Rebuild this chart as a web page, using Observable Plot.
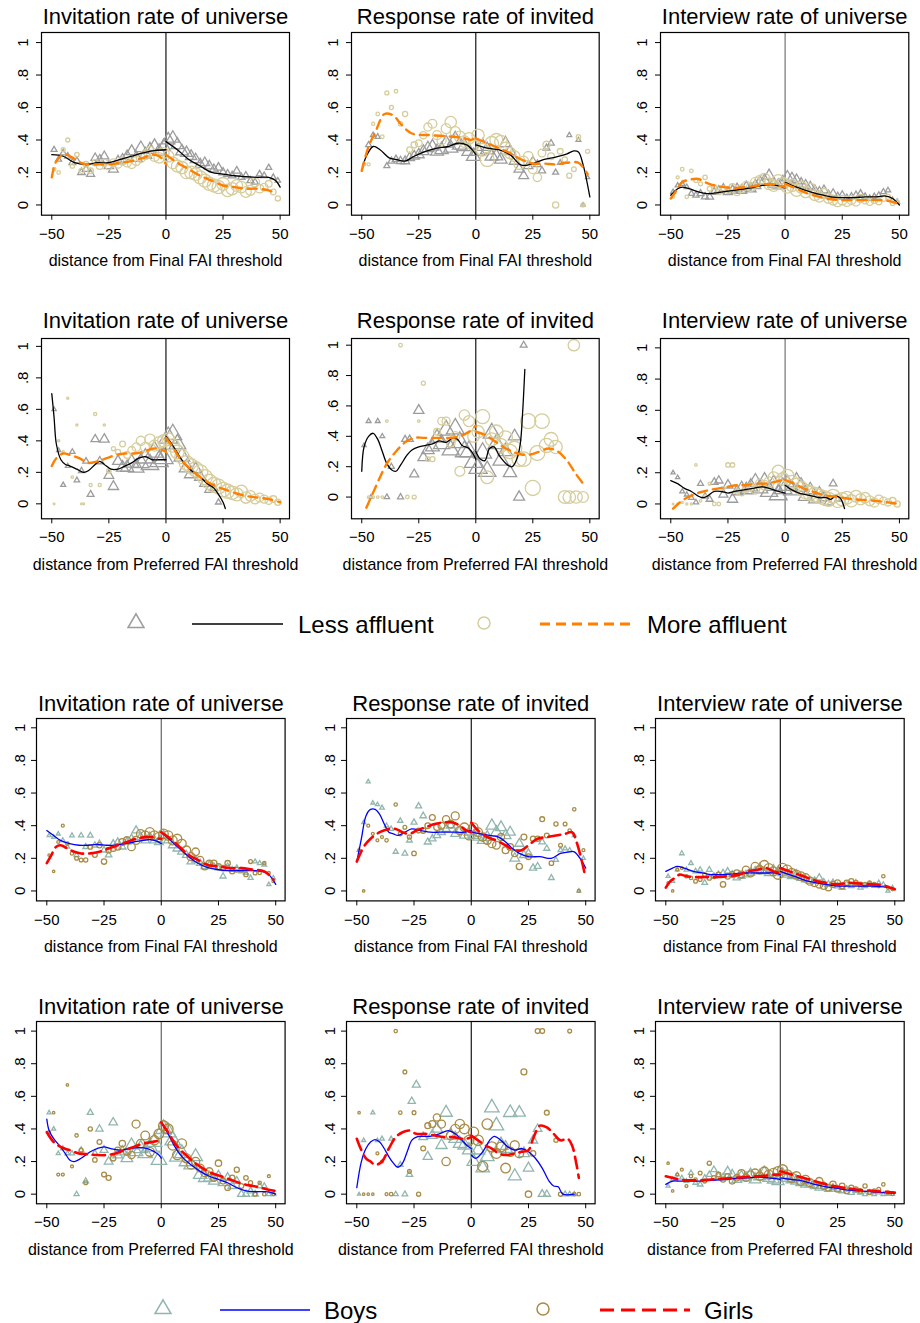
<!DOCTYPE html>
<html><head><meta charset="utf-8">
<script src="https://cdn.jsdelivr.net/npm/d3@7"></script>
<script src="https://cdn.jsdelivr.net/npm/@observablehq/plot@0.6"></script>
<style>
body{margin:0;background:#fff;}
#root{position:relative;width:920px;height:1323px;overflow:hidden;background:#fff;}
</style></head><body><div id="root"></div><script>
const FONT = '"Liberation Sans", Arial, Helvetica, sans-serif';
const xTicks = [-50,-25,0,25,50];
const yTickValues = [0,0.2,0.4,0.6,0.8,1];
const yTickLabels = ["0",".2",".4",".6",".8","1"];
const titles = ["Invitation rate of universe","Response rate of invited","Interview rate of universe"];
const xLabels = ["distance from Final FAI threshold","distance from Preferred FAI threshold"];
const legend1 = ["Less affluent","More affluent"];
const legend2 = ["Boys","Girls"];

// ---------- Panel 1: Invitation, Final, affluence ----------
const p1Tri = [[-49,.34,6],[-47,.28,6],[-45,.32,7],[-43,.30,7],[-41,.26,8],[-39,.27,9],[-37,.20,10],[-35,.22,10],[-33,.19,11],[-31,.29,12],[-29,.28,13],[-27,.30,14],[-25,.24,15],[-23,.22,16],[-21,.27,17],[-19,.28,18],[-17,.30,20],[-15,.33,22],[-13,.29,24],[-11,.35,26],[-9,.31,27],[-7,.34,28],[-5,.36,30],[-3,.33,30],[-1,.36,30],[1,.40,30],[3,.41,30],[5,.37,28],[7,.33,26],[9,.32,24],[11,.30,22],[13,.28,20],[15,.25,18],[17,.26,17],[19,.24,16],[21,.22,14],[23,.23,13],[25,.20,12],[27,.19,11],[29,.18,10],[31,.21,10],[33,.17,9],[35,.18,9],[37,.15,8],[39,.14,8],[41,.19,7],[43,.18,7],[45,.23,6],[47,.17,6],[49,.15,5]];
const p1Circ = [[-49,.22,4],[-47,.20,4],[-45,.34,5],[-43,.40,5],[-41,.24,6],[-39,.31,6],[-37,.21,8],[-35,.25,10],[-33,.21,10],[-31,.26,12],[-29,.24,14],[-27,.26,14],[-25,.24,16],[-23,.26,18],[-21,.25,18],[-19,.27,20],[-17,.26,22],[-15,.25,22],[-13,.27,24],[-11,.29,26],[-9,.31,28],[-7,.33,30],[-5,.30,32],[-3,.29,34],[-1,.32,36],[1,.30,40],[3,.26,42],[5,.24,44],[7,.23,46],[9,.20,48],[11,.20,50],[13,.19,50],[15,.17,52],[17,.15,52],[19,.13,54],[21,.12,54],[23,.11,52],[25,.13,50],[27,.09,48],[29,.10,46],[31,.12,42],[33,.11,40],[35,.08,36],[37,.09,30],[39,.14,26],[41,.10,22],[43,.11,18],[45,.13,14],[47,.08,10],[49,.04,8]];
const p1LineA = [[-50,.31],[-45,.30],[-40,.26],[-35,.25],[-30,.26],[-25,.26],[-20,.28],[-15,.30],[-10,.32],[-5,.335],[0,.34],[0,null],[0,.39],[5,.34],[10,.28],[15,.24],[20,.20],[25,.19],[30,.18],[35,.175],[40,.17],[45,.17],[48,.15],[50,.11]];
const p1LineB = [[-50,.17],[-48,.27],[-45,.31],[-42,.30],[-38,.265],[-35,.25],[-30,.25],[-25,.25],[-20,.26],[-15,.27],[-10,.29],[-6,.31],[-3,.30],[0,.25],[0,null],[0,.31],[5,.26],[10,.22],[15,.18],[20,.15],[25,.12],[30,.11],[35,.10],[40,.10],[45,.09],[48,.07]];

// ---------- Panel 2: Response, Final, affluence ----------
const p2Tri = [[-47,.37,6],[-45,.43,5],[-43,.42,5],[-39,.24,6],[-37,.27,8],[-35,.28,10],[-33,.27,12],[-31,.27,14],[-29,.29,16],[-27,.30,18],[-25,.31,20],[-23,.33,22],[-21,.35,24],[-19,.36,26],[-17,.33,28],[-15,.34,30],[-13,.38,32],[-11,.35,34],[-9,.40,38],[-7,.37,36],[-5,.36,34],[-3,.33,34],[-1,.30,34],[1,.33,34],[3,.36,32],[5,.34,30],[7,.30,30],[9,.30,28],[11,.28,26],[13,.38,24],[15,.33,22],[17,.27,20],[19,.22,18],[21,.18,16],[23,.24,14],[25,.27,12],[27,.25,10],[29,.21,9],[31,.35,8],[33,.38,7],[35,.20,6],[37,.26,5],[41,.43,4],[45,.40,4],[47,.00,3],[49,.17,3]];
const p2Circ = [[-49,.25,3],[-47,.25,3],[-45,.50,3],[-43,.56,4],[-41,.42,4],[-39,.69,5],[-37,.60,5],[-35,.70,4],[-33,.50,6],[-31,.56,8],[-29,.34,10],[-27,.37,12],[-25,.38,14],[-23,.43,16],[-21,.48,20],[-19,.50,24],[-17,.43,24],[-15,.40,26],[-13,.47,30],[-11,.51,40],[-9,.45,34],[-7,.42,38],[-5,.39,40],[-3,.41,42],[-1,.37,44],[1,.43,46],[3,.34,50],[5,.28,60],[7,.38,56],[9,.40,52],[11,.39,48],[13,.35,44],[15,.32,40],[17,.30,36],[19,.25,32],[21,.27,30],[23,.30,28],[25,.22,24],[27,.17,22],[29,.32,18],[31,.37,16],[33,.30,14],[35,.00,12],[37,.33,10],[39,.28,9],[41,.18,8],[43,.22,7],[45,.42,6],[47,.00,5],[49,.33,5]];
const p2LineA = [[-50,.21],[-48,.30],[-45,.36],[-42,.34],[-38,.29],[-35,.28],[-31,.27],[-27,.30],[-22,.33],[-17,.35],[-12,.36],[-8,.38],[-4,.37],[-1,.33],[0,.31],[0,null],[0,.37],[5,.35],[10,.34],[15,.31],[20,.245],[25,.255],[30,.28],[35,.295],[40,.315],[43,.333],[45,.326],[47,.25],[50,.05]];
const p2LineB = [[-50,.21],[-47,.36],[-44,.45],[-40,.56],[-36,.55],[-33,.50],[-28,.44],[-20,.43],[-10,.42],[-5,.41],[-2,.40],[0,.42],[0,null],[0,.41],[5,.38],[10,.35],[15,.32],[20,.28],[25,.255],[30,.255],[35,.25],[40,.26],[45,.26],[49,.19]];

// ---------- Panel 3: Interview, Final, affluence ----------
const p3Tri = [[-49,.08,4],[-47,.12,4],[-45,.13,5],[-43,.11,5],[-41,.07,6],[-39,.06,7],[-37,.07,8],[-35,.05,9],[-33,.05,10],[-31,.08,11],[-29,.09,12],[-27,.10,13],[-25,.08,14],[-23,.09,15],[-21,.10,16],[-19,.09,17],[-17,.11,18],[-15,.10,19],[-13,.12,20],[-11,.14,21],[-9,.15,22],[-7,.18,22],[-5,.13,23],[-3,.12,23],[-1,.14,24],[1,.17,24],[3,.16,23],[5,.15,22],[7,.13,20],[9,.12,18],[11,.11,17],[13,.09,16],[15,.08,15],[17,.09,14],[19,.06,13],[21,.07,12],[23,.05,11],[25,.06,10],[27,.04,10],[29,.05,9],[31,.06,9],[33,.07,8],[35,.05,8],[37,.04,7],[39,.05,7],[41,.06,6],[43,.08,6],[45,.09,5],[47,.03,5],[49,.02,4]];
const p3Circ = [[-49,.05,3],[-47,.17,3],[-45,.22,4],[-43,.05,4],[-41,.21,4],[-39,.15,5],[-37,.13,5],[-35,.17,6],[-33,.10,7],[-31,.11,8],[-29,.08,9],[-27,.10,10],[-25,.09,12],[-23,.11,14],[-21,.08,16],[-19,.10,18],[-17,.12,20],[-15,.11,24],[-13,.14,28],[-11,.15,34],[-9,.16,38],[-7,.13,40],[-5,.12,42],[-3,.15,44],[-1,.13,46],[1,.11,46],[3,.12,44],[5,.09,44],[7,.11,42],[9,.08,40],[11,.10,38],[13,.06,36],[15,.05,34],[17,.07,32],[19,.04,30],[21,.03,30],[23,.02,30],[25,.03,28],[27,.02,26],[29,.03,24],[31,.02,22],[33,.04,20],[35,.03,18],[37,.02,16],[39,.03,14],[41,.02,12],[43,.04,10],[45,.05,8],[47,.01,6],[49,.02,5]];
const p3LineA = [[-50,.06],[-47,.10],[-45,.11],[-42,.10],[-38,.08],[-34,.07],[-30,.075],[-25,.085],[-20,.095],[-15,.105],[-10,.12],[-7,.125],[-4,.12],[0,.105],[0,null],[0,.14],[5,.11],[10,.085],[15,.065],[20,.05],[25,.045],[30,.045],[35,.05],[40,.05],[44,.055],[47,.04],[50,.0]];
const p3LineB = [[-50,.04],[-48,.08],[-45,.14],[-42,.155],[-38,.16],[-35,.14],[-31,.12],[-27,.11],[-22,.105],[-17,.11],[-12,.12],[-7,.13],[-3,.12],[0,.11],[0,null],[0,.13],[5,.10],[10,.07],[15,.05],[20,.035],[25,.03],[30,.03],[35,.03],[40,.03],[45,.025],[49,.01]];

// ---------- Panel 4: Invitation, Preferred, affluence ----------
const p4Tri = [[-49,.60,3],[-47,.34,3],[-45,.12,4],[-43,.24,4],[-41,.33,5],[-39,.15,5],[-37,.21,6],[-35,.27,7],[-33,.06,8],[-31,.41,12],[-29,.27,12],[-27,.41,16],[-25,.18,16],[-23,.11,18],[-21,.27,20],[-19,.23,26],[-17,.23,30],[-15,.26,36],[-13,.23,40],[-11,.26,44],[-9,.29,48],[-7,.25,52],[-5,.33,56],[-3,.27,58],[-1,.29,60],[1,.42,58],[3,.44,54],[5,.38,48],[7,.30,42],[9,.23,36],[11,.19,30],[13,.22,26],[15,.17,22],[17,.13,18],[19,.09,14],[21,.10,10],[23,.01,6]];
const p4Circ = [[-49,.00,1],[-47,.40,1.5],[-45,.33,1.5],[-43,.67,1.5],[-41,.17,2],[-39,.50,1.5],[-37,.00,1],[-36,.00,1],[-33,.12,3],[-31,.57,3],[-29,.12,3],[-27,.50,1.5],[-25,.21,6],[-23,.35,5],[-21,.33,8],[-19,.38,10],[-17,.31,14],[-15,.34,18],[-13,.36,22],[-11,.40,26],[-9,.36,30],[-7,.41,34],[-5,.37,38],[-3,.39,42],[-1,.40,46],[1,.41,50],[3,.37,54],[5,.33,58],[7,.30,62],[9,.26,64],[11,.24,66],[13,.22,68],[15,.20,70],[17,.17,70],[19,.14,70],[21,.12,68],[23,.11,66],[25,.09,64],[27,.08,60],[29,.07,56],[31,.06,52],[33,.08,46],[35,.04,40],[37,.05,34],[39,.03,28],[41,.04,24],[43,.03,20],[45,.02,16],[47,.03,14],[49,.01,12]];
const p4LineA = [[-50,.70],[-49,.55],[-48,.38],[-46,.28],[-44,.25],[-42,.24],[-39,.22],[-36,.20],[-34,.21],[-31,.25],[-29,.27],[-27,.25],[-24,.22],[-21,.22],[-18,.24],[-15,.26],[-12,.29],[-9,.30],[-6,.28],[-3,.28],[0,.28],[0,null],[0,.43],[3,.37],[6,.30],[9,.24],[12,.20],[15,.17],[18,.13],[21,.10],[23,.06],[25,.01],[26,-.03]];
const p4LineB = [[-50,.24],[-48,.29],[-45,.32],[-42,.31],[-38,.29],[-34,.26],[-30,.27],[-26,.29],[-22,.31],[-18,.32],[-14,.32],[-10,.33],[-6,.35],[-3,.35],[0,.33],[0,null],[0,.42],[3,.36],[6,.29],[10,.23],[14,.18],[18,.14],[22,.11],[26,.09],[30,.07],[35,.05],[40,.04],[45,.03],[50,.01]];

// ---------- Panel 5: Response, Preferred, affluence ----------
const p5Tri = [[-49,.34,3],[-47,.50,4],[-46,.00,3],[-43,.50,4],[-41,.40,4],[-39,.00,5],[-37,.20,6],[-33,.00,6],[-31,.38,8],[-29,.38,9],[-27,.15,14],[-25,.57,18],[-23,.26,20],[-21,.31,26],[-19,.33,32],[-17,.39,38],[-15,.35,44],[-13,.44,50],[-11,.31,50],[-9,.45,54],[-7,.36,56],[-5,.30,56],[-3,.30,56],[-1,.23,56],[1,.19,56],[3,.29,54],[5,.17,52],[7,.42,50],[9,.35,46],[11,.24,42],[13,.30,36],[15,.16,30],[17,.40,26],[19,.00,20],[21,1.00,8]];
const p5Circ = [[-47,.00,2],[-45,.00,2],[-43,.00,2],[-41,.00,2],[-39,.50,2],[-33,1.00,4],[-30,.00,4],[-27,.00,5],[-25,.50,2],[-23,.75,5],[-21,.25,6],[-19,.25,8],[-17,.43,14],[-15,.50,18],[-13,.50,20],[-11,.36,24],[-9,.40,26],[-7,.17,30],[-5,.54,34],[-3,.50,38],[-1,.40,42],[1,.43,46],[3,.53,60],[5,.13,50],[7,.38,52],[9,.43,56],[11,.34,58],[13,.39,60],[15,.30,62],[17,.32,64],[19,.25,64],[21,.25,66],[23,.50,70],[25,.06,70],[27,.29,68],[29,.50,66],[31,.34,62],[33,.38,58],[35,.33,54],[39,.00,50],[41,.00,48],[43,1.00,40],[44,.00,46],[47,.00,36]];
const p5LineA = [[-50,.17],[-49,.33],[-47,.40],[-45,.42],[-43,.38],[-41,.30],[-39,.22],[-37,.18],[-35,.17],[-33,.21],[-30,.28],[-28,.31],[-25,.33],[-22,.34],[-19,.35],[-16,.37],[-13,.36],[-10,.39],[-8,.38],[-6,.34],[-3,.32],[-1,.28],[0,.25],[0,null],[0,.30],[2,.25],[4,.24],[6,.32],[8,.33],[10,.28],[12,.24],[14,.21],[16,.20],[18,.25],[19.5,.35],[20.5,.55],[21.5,.84]];
const p5LineB = [[-48,-.07],[-45,.03],[-42,.13],[-39,.22],[-35,.30],[-31,.36],[-27,.39],[-23,.39],[-19,.39],[-15,.39],[-11,.39],[-7,.40],[-3,.43],[0,.47],[0,null],[0,.43],[4,.41],[8,.37],[12,.33],[16,.30],[20,.28],[24,.28],[28,.30],[32,.32],[36,.30],[40,.24],[44,.15],[48,.07]];

// ---------- Panel 6: Interview, Preferred, affluence ----------
const p6Tri = [[-49,.20,3],[-47,.17,3],[-45,.08,4],[-43,.06,4],[-41,.04,5],[-39,.01,5],[-37,.13,6],[-35,.05,7],[-33,.03,8],[-31,.14,10],[-29,.15,12],[-27,.06,14],[-25,.12,16],[-23,.03,18],[-21,.08,22],[-19,.10,26],[-17,.09,30],[-15,.11,34],[-13,.14,38],[-11,.10,42],[-9,.14,46],[-7,.08,50],[-5,.12,52],[-3,.06,54],[-1,.10,56],[1,.12,54],[3,.09,50],[5,.14,46],[7,.11,42],[9,.05,36],[11,.09,30],[13,.03,26],[15,.07,22],[17,.04,18],[19,.01,14],[21,.13,10],[23,.03,6]];
const p6Circ = [[-49,.00,1],[-47,.00,1],[-45,.01,1.5],[-43,.00,1.5],[-41,.00,1.5],[-39,.25,2],[-37,.02,2],[-35,.05,3],[-33,.13,3],[-31,.00,4],[-29,.00,4],[-27,.10,4],[-25,.25,6],[-23,.25,6],[-21,.08,8],[-19,.07,10],[-17,.10,14],[-15,.11,18],[-13,.09,22],[-11,.13,26],[-9,.12,30],[-7,.14,34],[-5,.17,38],[-3,.21,44],[-1,.16,48],[1,.18,52],[3,.14,56],[5,.12,58],[7,.10,60],[9,.08,62],[11,.07,64],[13,.06,64],[15,.05,64],[17,.04,62],[19,.03,60],[21,.05,58],[23,.02,56],[25,.03,54],[27,.04,50],[29,.02,46],[31,.05,42],[33,.03,38],[35,.04,34],[37,.02,30],[39,.01,26],[41,.03,22],[43,.02,18],[45,.01,16],[47,.02,14],[49,.00,12]];
const p6LineA = [[-50,.15],[-47,.13],[-44,.10],[-41,.08],[-38,.05],[-36,.04],[-34,.05],[-31,.08],[-28,.08],[-25,.07],[-22,.08],[-18,.09],[-14,.10],[-10,.11],[-7,.10],[-3,.08],[0,.07],[0,null],[0,.12],[3,.09],[6,.07],[9,.06],[12,.05],[15,.04],[18,.04],[20,.03],[22,.05],[24,.04],[26,-.03]];
const p6LineB = [[-49,-.03],[-46,.01],[-43,.04],[-40,.06],[-37,.075],[-33,.09],[-29,.10],[-25,.11],[-21,.12],[-17,.12],[-13,.13],[-9,.13],[-5,.14],[-2,.15],[0,.15],[0,null],[0,.155],[4,.13],[8,.10],[12,.08],[16,.06],[20,.05],[25,.04],[30,.03],[35,.025],[40,.02],[45,.01],[50,.0]];

// ---------- Panel 7: Invitation, Final, gender ----------
const p7Tri = [[-49,.34,3],[-47,.33,3],[-45,.35,3],[-43,.31,4],[-41,.27,4],[-39,.34,4],[-37,.22,5],[-35,.34,5],[-33,.27,6],[-31,.34,6],[-29,.28,7],[-27,.29,7],[-25,.25,8],[-23,.22,8],[-21,.29,9],[-19,.30,10],[-17,.27,10],[-15,.30,11],[-13,.32,12],[-11,.37,13],[-9,.33,14],[-7,.31,14],[-5,.33,15],[-3,.31,15],[-1,.30,15],[1,.34,15],[3,.31,15],[5,.28,14],[7,.26,14],[9,.24,13],[11,.22,12],[13,.18,12],[15,.19,11],[17,.17,10],[19,.15,10],[21,.16,9],[23,.15,8],[25,.14,8],[27,.09,7],[29,.15,7],[31,.13,6],[33,.14,6],[35,.12,5],[37,.11,5],[39,.08,5],[41,.18,4],[43,.17,4],[45,.16,4],[47,.04,3],[49,.08,3]];
const p7Circ = [[-49,.22,2],[-47,.12,2],[-45,.30,3],[-43,.40,3],[-41,.29,4],[-39,.23,4],[-37,.20,5],[-35,.19,5],[-33,.19,6],[-31,.27,7],[-29,.22,8],[-27,.28,9],[-25,.18,10],[-23,.25,11],[-21,.26,12],[-19,.27,14],[-17,.30,16],[-15,.31,18],[-13,.27,20],[-11,.31,22],[-9,.35,24],[-7,.34,26],[-5,.36,28],[-3,.34,28],[-1,.33,30],[1,.35,30],[3,.34,30],[5,.31,28],[7,.32,28],[9,.29,26],[11,.25,24],[13,.21,22],[15,.24,20],[17,.19,18],[19,.15,16],[21,.17,14],[23,.17,13],[25,.15,12],[27,.14,11],[29,.17,10],[31,.12,9],[33,.13,8],[35,.13,7],[37,.10,6],[39,.18,5],[41,.11,5],[43,.11,4],[45,.17,4],[47,.11,3],[49,.06,3]];
const p7LineA = [[-50,.37],[-47,.34],[-44,.31],[-40,.29],[-36,.28],[-32,.28],[-28,.285],[-24,.28],[-20,.28],[-16,.29],[-12,.30],[-8,.31],[-5,.315],[-2,.305],[0,.29],[0,null],[0,.36],[4,.31],[8,.26],[12,.21],[16,.17],[20,.145],[25,.13],[30,.125],[35,.125],[40,.125],[44,.12],[47,.10],[50,.04]];
const p7LineB = [[-50,.17],[-48,.22],[-46,.27],[-44,.28],[-41,.26],[-38,.24],[-35,.23],[-31,.23],[-27,.24],[-23,.26],[-19,.28],[-15,.30],[-11,.32],[-7,.33],[-4,.33],[-1,.32],[0,.32],[0,null],[0,.36],[4,.32],[8,.27],[12,.22],[16,.19],[20,.16],[25,.15],[30,.14],[35,.14],[40,.13],[45,.12],[49,.07]];

// ---------- Panel 8: Response, Final, gender ----------
const p8Tri = [[-49,.25,3],[-47,.42,3],[-45,.67,3],[-43,.54,3],[-41,.53,3],[-39,.51,4],[-37,.40,4],[-35,.38,5],[-33,.24,5],[-31,.43,5],[-29,.23,6],[-27,.31,6],[-25,.42,7],[-23,.52,7],[-21,.46,8],[-19,.30,9],[-17,.32,10],[-15,.34,11],[-13,.36,12],[-11,.38,13],[-9,.40,14],[-7,.35,15],[-5,.37,16],[-3,.34,17],[-1,.36,18],[1,.34,19],[3,.33,20],[5,.31,22],[7,.33,24],[9,.40,26],[11,.36,26],[13,.39,24],[15,.34,22],[17,.36,20],[19,.20,18],[21,.29,16],[23,.22,14],[25,.23,12],[27,.14,10],[29,.15,9],[31,.30,8],[33,.26,7],[35,.08,6],[37,.19,5],[39,.25,5],[41,.26,4],[43,.25,4],[45,.34,3],[47,.00,3],[49,.20,3]];
const p8Circ = [[-49,.25,2],[-47,.00,2],[-45,.40,3],[-43,.35,3],[-41,.31,3],[-39,.33,3],[-37,.31,4],[-33,.53,4],[-31,.35,5],[-29,.39,5],[-27,.33,6],[-25,.23,7],[-23,.37,8],[-21,.37,10],[-19,.40,11],[-17,.45,12],[-15,.39,14],[-13,.40,16],[-11,.44,18],[-9,.41,20],[-7,.46,22],[-5,.37,24],[-3,.39,26],[-1,.34,28],[1,.39,28],[3,.36,26],[5,.33,24],[7,.31,22],[9,.29,22],[11,.28,20],[13,.33,18],[15,.25,16],[17,.27,15],[19,.23,14],[21,.15,13],[23,.33,12],[25,.21,11],[27,.32,10],[29,.32,9],[31,.44,8],[33,.34,8],[35,.17,7],[37,.41,6],[39,.28,5],[41,.41,5],[43,.37,4],[45,.50,4],[47,.00,3],[49,.25,3]];
const p8LineA = [[-50,.18],[-48,.32],[-46,.46],[-44,.50],[-42,.50],[-40,.47],[-38,.41],[-36,.36],[-34,.35],[-32,.34],[-29,.36],[-26,.38],[-22,.37],[-18,.36],[-14,.36],[-10,.36],[-6,.36],[-3,.36],[-1,.37],[0,.37],[0,null],[0,.36],[4,.35],[8,.34],[12,.33],[15,.30],[18,.26],[21,.23],[25,.21],[30,.21],[35,.20],[39,.23],[43,.24],[45,.24],[48,.19],[50,.14]];
const p8LineB = [[-50,.18],[-47,.27],[-44,.32],[-40,.36],[-36,.38],[-33,.38],[-30,.36],[-27,.35],[-24,.37],[-20,.39],[-16,.41],[-12,.42],[-8,.42],[-5,.40],[-2,.37],[0,.36],[0,null],[0,.42],[3,.37],[7,.33],[11,.31],[15,.28],[19,.25],[22,.25],[25,.28],[29,.32],[33,.33],[37,.34],[41,.35],[44,.36],[46,.30],[48,.20],[49.5,.11]];

// ---------- Panel 9: Interview, Final, gender ----------
const p9Tri = [[-49,.09,3],[-47,.06,3],[-45,.13,3],[-43,.23,4],[-41,.13,4],[-39,.17,4],[-37,.12,5],[-35,.13,5],[-33,.05,6],[-31,.13,6],[-29,.09,7],[-27,.10,7],[-25,.11,8],[-23,.12,8],[-21,.10,9],[-19,.08,10],[-17,.09,10],[-15,.10,11],[-13,.11,12],[-11,.12,13],[-9,.14,14],[-7,.12,14],[-5,.11,15],[-3,.13,15],[-1,.12,15],[1,.11,15],[3,.10,15],[5,.09,14],[7,.10,14],[9,.08,13],[11,.07,12],[13,.06,12],[15,.06,11],[17,.08,10],[19,.05,10],[21,.04,9],[23,.05,8],[25,.03,8],[27,.02,7],[29,.04,7],[31,.03,6],[33,.05,6],[35,.02,5],[37,.03,5],[39,.04,5],[41,.03,4],[43,.05,4],[45,.04,4],[47,.00,3],[49,.02,3]];
const p9Circ = [[-49,.05,2],[-47,.00,2],[-45,.13,3],[-43,.14,3],[-41,.09,4],[-39,.08,4],[-37,.06,5],[-35,.07,5],[-33,.10,6],[-31,.08,7],[-29,.09,8],[-27,.10,9],[-25,.04,10],[-23,.09,11],[-21,.10,12],[-19,.11,14],[-17,.10,16],[-15,.13,18],[-13,.11,20],[-11,.15,22],[-9,.13,24],[-7,.16,26],[-5,.14,28],[-3,.12,28],[-1,.10,30],[1,.14,30],[3,.13,30],[5,.11,28],[7,.10,28],[9,.09,26],[11,.08,24],[13,.06,22],[15,.05,20],[17,.04,18],[19,.03,16],[21,.02,14],[23,.04,13],[25,.05,12],[27,.03,11],[29,.05,10],[31,.06,9],[33,.05,8],[35,.04,7],[37,.04,6],[39,.05,5],[41,.04,5],[43,.03,4],[45,.09,4],[47,.02,3],[49,.01,3]];
const p9LineA = [[-50,.12],[-47,.14],[-45,.15],[-42,.14],[-38,.12],[-34,.11],[-30,.10],[-25,.10],[-20,.105],[-15,.11],[-10,.11],[-5,.11],[-2,.11],[0,.10],[0,null],[0,.12],[4,.10],[8,.08],[12,.06],[16,.05],[20,.04],[25,.03],[30,.03],[35,.03],[40,.03],[45,.025],[48,.02],[50,.01]];
const p9LineB = [[-50,.02],[-48,.06],[-46,.08],[-44,.10],[-41,.09],[-37,.085],[-33,.085],[-28,.085],[-23,.09],[-18,.10],[-14,.12],[-10,.13],[-6,.14],[-3,.12],[0,.11],[0,null],[0,.14],[4,.12],[8,.10],[12,.08],[16,.06],[20,.05],[25,.04],[30,.05],[35,.045],[40,.04],[45,.035],[48,.02],[50,.01]];

// ---------- Panel 10: Invitation, Preferred, gender ----------
const p10Tri = [[-49,.50,3],[-47,.40,3],[-45,.25,3],[-43,.28,4],[-41,.25,4],[-39,.25,5],[-37,.00,5],[-35,.27,6],[-33,.08,6],[-31,.50,7],[-29,.25,8],[-27,.40,10],[-25,.27,12],[-23,.20,14],[-21,.44,14],[-19,.24,18],[-17,.26,22],[-15,.22,26],[-13,.30,30],[-11,.26,34],[-9,.28,38],[-7,.25,40],[-5,.29,42],[-3,.32,44],[-1,.21,46],[1,.40,48],[3,.38,48],[5,.33,46],[7,.23,44],[9,.25,42],[11,.20,40],[13,.18,38],[15,.23,36],[17,.12,34],[19,.10,30],[21,.10,26],[23,.08,22],[25,.11,20],[27,.07,18],[29,.10,16],[31,.05,14],[33,.08,12],[35,.00,11],[37,.00,10],[39,.02,9],[41,.00,8],[43,.05,7],[45,.05,6],[47,.00,5],[49,.00,4]];
const p10Circ = [[-49,.38,3],[-47,.50,2],[-45,.12,3],[-43,.12,3],[-41,.67,2],[-39,.17,3],[-37,.36,4],[-35,.27,5],[-33,.07,5],[-31,.40,6],[-29,.21,7],[-27,.32,8],[-25,.12,8],[-23,.10,9],[-21,.22,10],[-19,.27,12],[-17,.31,14],[-15,.26,16],[-13,.24,18],[-11,.43,22],[-9,.31,24],[-7,.36,26],[-5,.26,28],[-3,.33,30],[-1,.37,32],[1,.42,34],[3,.40,34],[5,.30,32],[7,.24,30],[9,.31,30],[11,.22,28],[13,.18,26],[15,.20,24],[17,.16,22],[19,.13,20],[21,.14,18],[23,.10,16],[25,.19,14],[27,.08,12],[29,.04,11],[31,.10,10],[33,.15,9],[35,.05,8],[37,.10,7],[39,.07,6],[41,.00,5],[43,.07,4],[45,.00,4],[47,.11,3],[49,.00,3]];
const p10LineA = [[-50,.46],[-49,.39],[-47,.34],[-44,.29],[-42,.25],[-40,.21],[-38,.20],[-35,.22],[-31,.26],[-28,.28],[-25,.29],[-22,.28],[-18,.27],[-14,.28],[-10,.285],[-6,.28],[-3,.26],[-1,.24],[0,.22],[0,null],[0,.44],[3,.37],[6,.29],[9,.23],[13,.18],[17,.14],[21,.11],[25,.09],[29,.07],[33,.04],[37,.02],[41,.015],[45,.015],[48,.01],[50,.0]];
const p10LineB = [[-50,.38],[-47,.32],[-44,.29],[-40,.27],[-36,.25],[-32,.245],[-28,.24],[-24,.24],[-20,.25],[-16,.27],[-12,.29],[-8,.31],[-4,.32],[-1,.33],[0,.34],[0,null],[0,.44],[3,.38],[6,.31],[10,.25],[14,.20],[18,.16],[22,.13],[26,.11],[30,.09],[34,.07],[38,.055],[42,.045],[46,.03],[50,.02]];

// ---------- Panel 11: Response, Preferred, gender ----------
const p11Tri = [[-49,.00,2],[-47,.33,3],[-43,.50,3],[-41,.33,3],[-39,.34,4],[-35,.34,4],[-33,.00,5],[-31,.18,6],[-29,.00,6],[-27,.12,8],[-26,.57,10],[-24,.67,12],[-21,.35,14],[-19,.23,16],[-17,.36,20],[-15,.40,24],[-13,.30,24],[-11,.50,30],[-9,.36,32],[-7,.34,32],[-5,.31,32],[-3,.30,32],[-1,.27,32],[1,.20,32],[3,.27,34],[5,.16,34],[7,.23,36],[9,.53,40],[11,.42,40],[13,.30,38],[15,.28,36],[17,.50,34],[19,.11,32],[21,.50,28],[23,.25,24],[25,.16,20],[27,.33,16],[29,.40,14],[31,.00,12],[33,.00,10],[41,.00,6],[43,.00,5],[45,.00,4]];
const p11Circ = [[-49,.50,2],[-47,.00,2],[-45,.00,2],[-43,.00,2],[-41,.25,3],[-39,.20,3],[-37,.00,3],[-35,.00,4],[-33,1.00,4],[-31,.50,4],[-29,.75,5],[-27,.14,5],[-25,.50,5],[-23,.00,6],[-21,.28,8],[-19,.42,12],[-17,.43,16],[-15,.47,18],[-13,.43,22],[-11,.20,24],[-9,.36,26],[-7,.40,28],[-5,.43,30],[-3,.40,32],[-1,.33,34],[1,.38,36],[3,.33,38],[5,.17,36],[7,.43,38],[9,.29,36],[11,.25,34],[13,.29,32],[15,.16,32],[17,.26,30],[19,.30,28],[21,.25,26],[23,.75,12],[25,.00,14],[27,.25,10],[29,1.00,8],[31,1.00,8],[33,.50,8],[37,.33,6],[39,.00,6],[43,1.00,5],[45,.00,4],[47,.00,4]];
const p11LineA = [[-50,.04],[-48,.20],[-46,.28],[-44,.32],[-42,.335],[-40,.32],[-38,.28],[-36,.23],[-34,.19],[-32,.165],[-30,.19],[-28,.26],[-26,.33],[-24,.35],[-22,.355],[-18,.355],[-14,.37],[-10,.39],[-7,.37],[-4,.33],[-2,.30],[0,.28],[0,null],[0,.24],[2,.22],[5,.26],[8,.33],[10,.355],[13,.33],[16,.29],[19,.27],[22,.28],[25,.26],[28,.22],[31,.16],[34,.08],[36,.05],[38,.045],[40,.0],[45,.0]];
const p11LineB = [[-50,.34],[-48,.27],[-46,.22],[-44,.20],[-42,.18],[-39,.20],[-36,.28],[-33,.35],[-30,.38],[-27,.39],[-24,.37],[-20,.37],[-16,.36],[-12,.35],[-8,.35],[-4,.34],[-2,.34],[0,.35],[0,null],[0,.36],[3,.33],[6,.30],[9,.28],[12,.25],[15,.24],[19,.25],[22,.26],[25,.27],[27,.34],[30,.42],[33,.41],[36,.37],[39,.33],[42,.34],[44,.30],[46,.18],[47,.10]];

// ---------- Panel 12: Interview, Preferred, gender ----------
const p12Tri = [[-49,.05,3],[-47,.09,3],[-45,.12,3],[-43,.10,4],[-41,.08,4],[-39,.13,5],[-37,.07,5],[-35,.06,6],[-33,.10,6],[-31,.12,7],[-29,.15,8],[-27,.11,10],[-25,.10,12],[-23,.14,14],[-21,.12,16],[-19,.09,18],[-17,.11,20],[-15,.10,22],[-13,.12,24],[-11,.09,26],[-9,.11,28],[-7,.13,28],[-5,.10,28],[-3,.09,28],[-1,.08,28],[1,.12,28],[3,.10,26],[5,.09,24],[7,.08,22],[9,.07,20],[11,.06,18],[13,.06,16],[15,.05,14],[17,.04,13],[19,.05,12],[21,.03,11],[23,.04,10],[25,.03,9],[27,.02,8],[29,.03,7],[31,.01,7],[33,.02,6],[35,.01,6],[37,.00,5],[39,.01,5],[41,.00,4],[43,.01,4],[45,.00,4],[47,.00,3],[49,.00,3]];
const p12Circ = [[-49,.19,2],[-47,.02,2],[-45,.12,3],[-43,.15,3],[-41,.05,3],[-39,.11,4],[-37,.09,4],[-35,.13,5],[-33,.08,5],[-31,.19,6],[-29,.10,7],[-27,.12,8],[-25,.09,9],[-23,.11,10],[-21,.08,12],[-19,.10,14],[-17,.13,16],[-15,.10,18],[-13,.12,20],[-11,.13,22],[-9,.11,24],[-7,.14,26],[-5,.12,28],[-3,.13,30],[-1,.14,32],[1,.15,34],[3,.12,32],[5,.10,30],[7,.11,28],[9,.08,26],[11,.09,24],[13,.07,22],[15,.06,20],[17,.08,18],[19,.05,16],[21,.04,15],[23,.06,14],[25,.03,12],[27,.05,11],[29,.02,10],[31,.04,9],[33,.03,8],[35,.02,7],[37,.05,6],[39,.01,6],[41,.02,5],[43,.03,5],[45,.06,4],[47,.01,4],[49,.00,3]];
const p12LineA = [[-50,.06],[-47,.08],[-44,.08],[-40,.08],[-35,.08],[-30,.085],[-25,.09],[-20,.095],[-15,.10],[-10,.105],[-5,.10],[-2,.095],[0,.09],[0,null],[0,.10],[5,.09],[10,.08],[15,.06],[20,.045],[25,.035],[30,.025],[35,.02],[40,.015],[45,.01],[50,.005]];
const p12LineB = [[-50,.11],[-47,.10],[-44,.09],[-40,.085],[-35,.085],[-30,.09],[-25,.095],[-20,.10],[-15,.105],[-10,.11],[-5,.115],[-2,.12],[0,.12],[0,null],[0,.14],[5,.12],[10,.10],[15,.08],[20,.06],[25,.045],[30,.035],[35,.025],[40,.02],[45,.015],[50,.01]];

// ---------- styles ----------
const styleTop = {tri:"#9c9c9c", circ:"#d6cd9c", a:"#000000", aw:1.3, b:"#ff7f00", bw:2.4, bdash:"9,6", yDx:-13.5, rMax:9};
const styleBot = {tri:"#91b6ae", circ:"#a88b45", a:"#0000ff", aw:1.3, b:"#ff0000", bw:2.6, bdash:"12,6", yDx:-11.5, rMax:8.5};

const root = document.getElementById("root");

function drawPanel(c) {
  const mL = 48, mR = 16, mT = 36, mB = 60;
  const [fl, fr] = c.cols, [ft, fb] = c.rows;
  const width = fr - fl + mL + mR, height = fb - ft + mT + mB;
  const s = c.s;
  const yt = yTickValues.map((v, i) => ({v, label: yTickLabels[i]}));
  const chart = Plot.plot({
    width, height, marginLeft: mL, marginRight: mR, marginTop: mT, marginBottom: mB,
    x: {domain: [-54.5, 54.1]},
    y: {domain: c.yDomain},
    r: {type: "sqrt", domain: [0, 100], range: [0, s.rMax]},
    style: {fontFamily: FONT, fontSize: "15px", color: "#000", background: "transparent", overflow: "visible"},
    marks: [
      Plot.axisX({ticks: xTicks, tickSize: 5, tickPadding: 8, fontSize: 15, label: null, stroke: "#000"}),
      Plot.axisY({ticks: yTickValues, tickSize: 5, tickFormat: () => "", label: null, stroke: "#000"}),
      Plot.text(yt, {y: "v", text: "label", frameAnchor: "left", rotate: -90, dx: s.yDx, lineAnchor: "bottom", textAnchor: "middle", fontSize: 15, fill: "#000"}),
      Plot.text([c.title], {text: d => d, frameAnchor: "top", dy: -c.titleDy, lineAnchor: "bottom", fontSize: 22, fill: "#000"}),
      Plot.text([c.xlabel], {text: d => d, frameAnchor: "bottom", dy: 51, lineAnchor: "bottom", fontSize: 16, fill: "#000"}),
      Plot.ruleX([0], {stroke: c.rule, strokeWidth: 1.1}),
      Plot.dot(c.tri, {x: d => d[0], y: d => d[1], r: d => d[2], symbol: "triangle", stroke: s.tri, fill: "none", strokeWidth: 1.3}),
      Plot.dot(c.circ, {x: d => d[0], y: d => d[1], r: d => d[2], symbol: "circle", stroke: s.circ, fill: "none", strokeWidth: 1.3}),
      Plot.line(c.lineA, {x: d => d[0], y: d => d[1], curve: "catmull-rom", stroke: s.a, strokeWidth: s.aw, clip: true}),
      Plot.line(c.lineB, {x: d => d[0], y: d => d[1], curve: "catmull-rom", stroke: s.b, strokeWidth: s.bw, strokeDasharray: s.bdash, clip: true}),
      Plot.frame({stroke: "#000", strokeWidth: 1.2})
    ]
  });
  chart.style.position = "absolute";
  chart.style.left = (fl - mL) + "px";
  chart.style.top = (ft - mT) + "px";
  root.appendChild(chart);
}

const colsTop = [[40.7, 288.7], [351, 598.7], [660, 908.3]];
const colsBot = [[35.7, 284.3], [345.7, 594.3], [655, 903.7]];
const rowsY = [[32.3, 215], [338, 518.3], [718.3, 900.7], [1021, 1203.3]];
const titleDys = [8, 10, 7.6, 7];

const panels = [
  {tri:p1Tri, circ:p1Circ, lineA:p1LineA, lineB:p1LineB, yDomain:[-0.063,1.062], rule:"#000"},
  {tri:p2Tri, circ:p2Circ, lineA:p2LineA, lineB:p2LineB, yDomain:[-0.063,1.062], rule:"#000"},
  {tri:p3Tri, circ:p3Circ, lineA:p3LineA, lineB:p3LineB, yDomain:[-0.063,1.062], rule:"#666"},
  {tri:p4Tri, circ:p4Circ, lineA:p4LineA, lineB:p4LineB, yDomain:[-0.095,1.05], rule:"#000"},
  {tri:p5Tri, circ:p5Circ, lineA:p5LineA, lineB:p5LineB, yDomain:[-0.143,1.044], rule:"#000"},
  {tri:p6Tri, circ:p6Circ, lineA:p6LineA, lineB:p6LineB, yDomain:[-0.095,1.06], rule:"#666"},
  {tri:p7Tri, circ:p7Circ, lineA:p7LineA, lineB:p7LineB, yDomain:[-0.061,1.057], rule:"#555"},
  {tri:p8Tri, circ:p8Circ, lineA:p8LineA, lineB:p8LineB, yDomain:[-0.061,1.057], rule:"#000"},
  {tri:p9Tri, circ:p9Circ, lineA:p9LineA, lineB:p9LineB, yDomain:[-0.061,1.057], rule:"#000"},
  {tri:p10Tri, circ:p10Circ, lineA:p10LineA, lineB:p10LineB, yDomain:[-0.059,1.059], rule:"#555"},
  {tri:p11Tri, circ:p11Circ, lineA:p11LineA, lineB:p11LineB, yDomain:[-0.059,1.059], rule:"#000"},
  {tri:p12Tri, circ:p12Circ, lineA:p12LineA, lineB:p12LineB, yDomain:[-0.059,1.059], rule:"#333"}
];

panels.forEach((p, i) => {
  const row = Math.floor(i / 3), col = i % 3;
  const top = row < 2;
  drawPanel({
    ...p,
    cols: (top ? colsTop : colsBot)[col],
    rows: rowsY[row],
    title: titles[col],
    xlabel: xLabels[row % 2],
    titleDy: titleDys[row],
    s: top ? styleTop : styleBot
  });
});

// ---------- legends ----------
function drawLegend(y, labels, s, pos) {
  const svg = d3.select(root).append("svg")
    .attr("width", 920).attr("height", 40)
    .style("position", "absolute").style("left", "0px").style("top", (y - 20) + "px");
  const cy = 20;
  const tri = d3.symbol(d3.symbolTriangle, 110)();
  svg.append("path").attr("d", tri).attr("transform", `translate(${pos.tri},${cy - 1})`)
    .attr("fill", "none").attr("stroke", s.tri).attr("stroke-width", 1.5);
  svg.append("line").attr("x1", pos.la[0]).attr("x2", pos.la[1]).attr("y1", cy).attr("y2", cy)
    .attr("stroke", s.a).attr("stroke-width", 1.5);
  svg.append("text").attr("x", pos.ta).attr("y", cy + 8.5).text(labels[0])
    .attr("font-family", FONT).attr("font-size", 24).attr("fill", "#000");
  svg.append("circle").attr("cx", pos.circ).attr("cy", cy - 1).attr("r", 6)
    .attr("fill", "none").attr("stroke", s.circ).attr("stroke-width", 1.5);
  svg.append("line").attr("x1", pos.lb[0]).attr("x2", pos.lb[1]).attr("y1", cy).attr("y2", cy)
    .attr("stroke", s.b).attr("stroke-width", 3.2).attr("stroke-dasharray", pos.dash);
  svg.append("text").attr("x", pos.tb).attr("y", cy + 8.5).text(labels[1])
    .attr("font-family", FONT).attr("font-size", 24).attr("fill", "#000");
}
drawLegend(624, legend1, styleTop, {tri:136, la:[192,283], ta:298, circ:484, lb:[540,632], tb:647, dash:"10,6"});
drawLegend(1310, legend2, styleBot, {tri:163, la:[220,310], ta:324, circ:543, lb:[600,690], tb:704, dash:"14,7"});
</script></body></html>
